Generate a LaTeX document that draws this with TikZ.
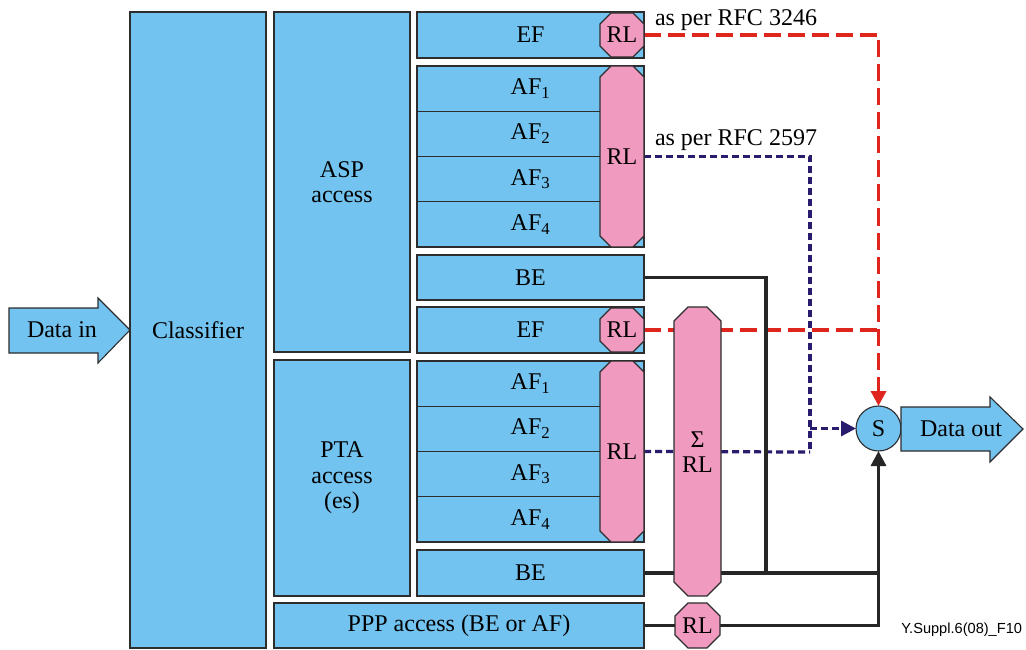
\documentclass[tikz,border=0pt]{standalone}
\usepackage{fontspec}
\setmainfont{Liberation Serif}
\newfontfamily\serifz{Liberation Serif}
\newfontfamily\labelsans{Liberation Sans}
\usetikzlibrary{arrows.meta,backgrounds}
\definecolor{cblue}{RGB}{115,195,240}
\definecolor{cpink}{RGB}{241,154,192}
\definecolor{cred}{RGB}{222,38,30}
\definecolor{cnavy}{RGB}{40,28,110}
\definecolor{cline}{RGB}{45,45,45}
\newcommand\octa[5]{\path[rlshape] ({#1+#5},#2) -- ({#3-#5},#2) -- (#3,{#2+#5}) -- (#3,{#4-#5}) -- ({#3-#5},#4) -- ({#1+#5},#4) -- (#1,{#4-#5}) -- (#1,{#2+#5}) -- cycle;}
\tikzset{
  box/.style={draw=cline, fill=cblue, line width=1.1pt, inner sep=0pt, outer sep=0pt, align=center},
  rlshape/.style={draw=cline, fill=cpink, line width=1.1pt},
  rltext/.style={inner sep=0pt, outer sep=0pt, align=center},
  bigarrow/.style={draw=cline, fill=cblue, line width=1.1pt, line join=miter},
  reddash/.style={draw=cred, line width=3.4pt, dash pattern=on 17pt off 7pt},
  bluedot/.style={draw=cnavy, line width=3.2pt, dash pattern=on 7pt off 4pt},
  blk/.style={draw=black!85, line width=3.2pt},
  tip/.style={-{Triangle[length=15pt,width=15pt]}},
  lbl/.style={inner sep=0pt, outer sep=0pt}
}
\begin{document}
\begin{tikzpicture}[x=1pt,y=-1pt,font=\serifz\fontsize{24}{25.5}\selectfont]
\useasboundingbox (0,0) rectangle (1026,650);
% Data in arrow
\path[bigarrow] (9,308) -- (98,308) -- (98,298) -- (130,330) -- (98,363) -- (98,353) -- (9,353) -- cycle;
\node[lbl] (din) at (62,330) {Data in};
% main boxes
\node[box, minimum width=136pt, minimum height=636pt] (cls) at (198,330) {Classifier};
\node[box, minimum width=136pt, minimum height=340pt] (asp) at (342,182) {ASP\\access};
\node[box, minimum width=136pt, minimum height=236pt] (pta) at (342,478) {PTA\\access\\(es)};
\node[box, minimum width=370pt, minimum height=45pt] (ppp) at (459,625.5) {PPP access (BE or AF)};
\node[box, minimum width=227pt, minimum height=46pt] (ef1) at (530.5,35) {EF};
\node[box, minimum width=227pt, minimum height=45.25pt] (afa1) at (530.5,88.6) {AF\textsubscript{1}};
\node[box, minimum width=227pt, minimum height=45.25pt] (afa2) at (530.5,133.9) {AF\textsubscript{2}};
\node[box, minimum width=227pt, minimum height=45.25pt] (afa3) at (530.5,179.1) {AF\textsubscript{3}};
\node[box, minimum width=227pt, minimum height=45.25pt] (afa4) at (530.5,224.4) {AF\textsubscript{4}};
\node[box, minimum width=227pt, minimum height=45pt] (be1) at (530.5,277.5) {BE};
\node[box, minimum width=227pt, minimum height=46pt] (ef2) at (530.5,330) {EF};
\node[box, minimum width=227pt, minimum height=45.25pt] (afb1) at (530.5,383.6) {AF\textsubscript{1}};
\node[box, minimum width=227pt, minimum height=45.25pt] (afb2) at (530.5,428.9) {AF\textsubscript{2}};
\node[box, minimum width=227pt, minimum height=45.25pt] (afb3) at (530.5,474.1) {AF\textsubscript{3}};
\node[box, minimum width=227pt, minimum height=45.25pt] (afb4) at (530.5,519.4) {AF\textsubscript{4}};
\node[box, minimum width=227pt, minimum height=46pt] (be2) at (530.5,573) {BE};
% RL shapes
\octa{600}{13}{644}{57}{11}
\node[rltext, minimum width=44pt, minimum height=44pt] (rl1) at (622,35) {RL};
\octa{600}{66}{644}{247}{11}
\node[rltext, minimum width=44pt, minimum height=181pt] (rl2) at (622,156.5) {RL};
\octa{600}{308}{644}{352}{11}
\node[rltext, minimum width=44pt, minimum height=44pt] (rl3) at (622,330) {RL};
\octa{600}{361}{644}{542}{11}
\node[rltext, minimum width=44pt, minimum height=181pt] (rl4) at (622,451.5) {RL};
\octa{674}{307}{721}{596}{14}
\node[rltext, minimum width=47pt] (sig) at (697.5,452) {Σ\\RL};
\octa{675}{603}{720}{648}{13}
\node[rltext, minimum width=45pt, minimum height=45pt] (rl5) at (697.5,625.5) {RL};
% S and data out
\node[draw=cline, fill=cblue, line width=1.1pt, circle, minimum size=45pt, inner sep=0pt, outer sep=0pt] (S) at (878.5,428.5) {S};
\path[bigarrow] (901,407) -- (990,407) -- (990,397) -- (1023,429) -- (990,462) -- (990,451) -- (901,451) -- cycle;
\node[lbl] (dout) at (961,429) {Data out};
% labels
\node[lbl, anchor=base west] (lab1) at (655,26) {as per RFC 3246};
\node[lbl, anchor=base west] (lab2) at (655,146) {as per RFC 2597};
\node[lbl, anchor=base east, font=\labelsans\fontsize{14.6}{16}\selectfont] (fig) at (1022,633) {Y.Suppl.6(08)\_F10};
% connectors
\coordinate (bj) at (810,452);
\coordinate (bk) at (766,573);
\begin{pgfonlayer}{background}
\draw[reddash, tip] (rl1.east) -| (S.north);
\draw[reddash] (rl3.east) -- (rl3.east -| S.north);
\draw[bluedot] (rl2.east) -| (bj);
\draw[bluedot] (rl4.east) -- (bj);
\draw[bluedot, tip] (S.west -| bj) -- (S.west);
\draw[blk] (be1.east) -| (bk);
\draw[blk, tip] (be2.east) -| (S.south);
\draw[blk] (ppp.east) -| (be2.east -| S.south);
\end{pgfonlayer}
\end{tikzpicture}
\end{document}
